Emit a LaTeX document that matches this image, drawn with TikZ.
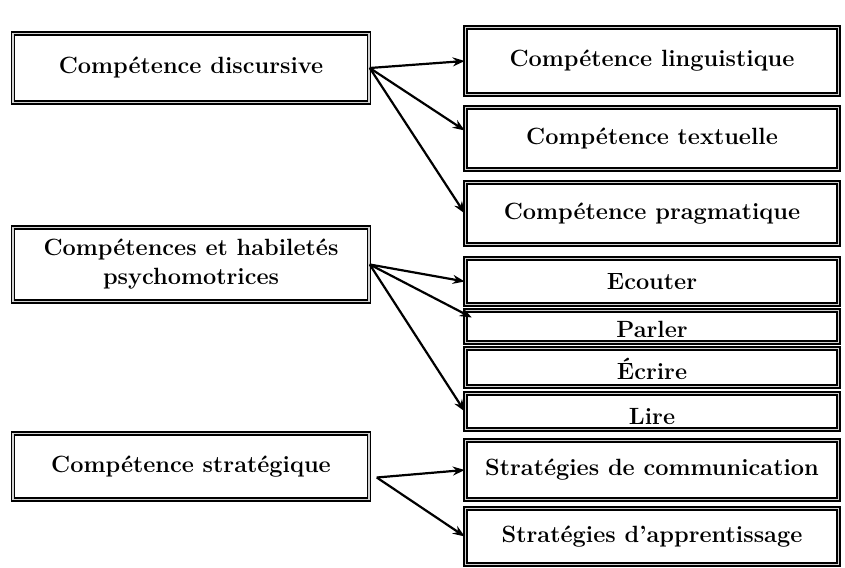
\documentclass[tikz,border=0pt]{standalone}
\usepackage{tikz}
\usetikzlibrary{arrows.meta}

\tikzset{
	box/.style={draw=black,line width=1.5pt,double=gray!35,double distance=1.2pt,fill=white,
		align=center,font=\fontsize{23.5}{29}\selectfont\bfseries,inner sep=2pt},
	lbox/.style={box,minimum width=356pt},
	rbox/.style={box,minimum width=373pt},
	arr/.style={-{Stealth[length=12pt,width=9pt]},line width=2.2pt}
}

\begin{document}
\begin{tikzpicture}[x=1pt,y=-1pt]
	\useasboundingbox (0,0) rectangle (845,567);
	% left column
	\node [lbox,minimum height=69pt] (disc) at (191,68) {Compétence discursive};
	\node [lbox,minimum height=74pt] (psych) at (191,264.5) {Compétences et habiletés\\psychomotrices};
	\node [lbox,minimum height=66pt] (strat) at (191,466.5) {Compétence stratégique};
	% right column
	\node [rbox,minimum height=67pt] (ling) at (652,61) {Compétence linguistique};
	\node [rbox,minimum height=62pt] (text) at (652,138.5) {Compétence textuelle};
	\node [rbox,minimum height=62pt] (prag) at (652,213.5) {Compétence pragmatique};
	\node [rbox,minimum height=46pt] (ecout) at (652,281.5) {Ecouter};
	\node [rbox,minimum height=32pt,text height=22pt,text depth=0pt] (parl) at (652,326.5) {Parler};
	\node [rbox,minimum height=38pt,text height=24pt,text depth=0pt] (ecri) at (652,367.5) {Écrire};
	\node [rbox,minimum height=36pt,text height=26pt,text depth=0pt] (lire) at (652,411.5) {Lire};
	\node [rbox,minimum height=59pt] (comm) at (652,470) {Stratégies de communication};
	\node [rbox,minimum height=56pt] (appr) at (652,536.5) {Stratégies d'apprentissage};
	% arrows
	\draw [arr] (disc.east) -- (ling.west);
	\draw [arr] (disc.east) -- ([yshift=8pt]text.west);
	\draw [arr] (disc.east) -- (prag.west);
	\draw [arr] (psych.east) -- (ecout.west);
	\draw [arr] (psych.east) -- ([shift={(7pt,9pt)}]parl.west);
	\draw [arr] (psych.east) -- (lire.west);
	\coordinate (s0) at ([shift={(7pt,-11pt)}]strat.east);
	\draw [arr] (s0) -- (comm.west);
	\draw [arr] (s0) -- (appr.west);
\end{tikzpicture}
\end{document}
